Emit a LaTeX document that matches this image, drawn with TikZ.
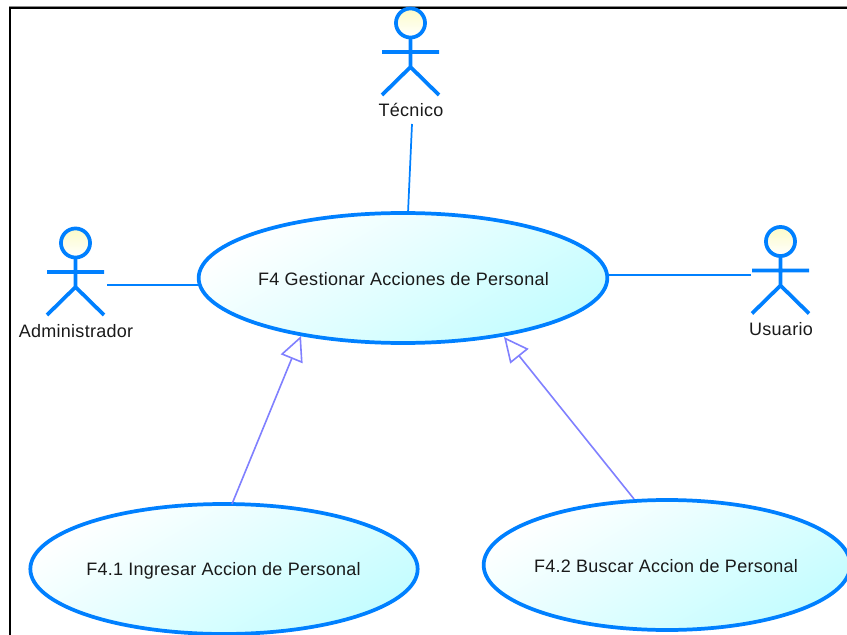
\documentclass[tikz,border=0pt]{standalone}
\usepackage{fontspec}
\setmainfont[LetterSpace=1.5]{Liberation Sans}
\usetikzlibrary{shapes.geometric,arrows.meta}
\definecolor{umlblue}{HTML}{0080FF}
\definecolor{genviolet}{HTML}{8080FF}
\definecolor{ucfill}{HTML}{C4FDFF}
\definecolor{headfill}{HTML}{FBFBC8}
\definecolor{inktext}{HTML}{1A1A1A}
\tikzset{
  usecase/.style={ellipse,draw=umlblue,line width=2.8pt,inner sep=0pt,
    top color=white,bottom color=ucfill,shading angle=30},
  uctext/.style={inner sep=0pt,text=inktext,font=\fontsize{13.5}{15}\selectfont},
  actorlabel/.style={inner sep=0pt,text=inktext,font=\fontsize{13.5}{15}\selectfont},
  assoc/.style={draw=umlblue,line width=1.3pt},
  gener/.style={draw=genviolet,line width=1.2pt,-{Triangle[open,length=18.5pt,width=17.5pt,fill=white]}},
  pics/actor/.style={code={
    \draw[umlblue,line width=2.8pt,top color=headfill,bottom color=white] (0,-29) circle[radius=10.9pt];
    \draw[umlblue,line width=2.8pt] (0,-14) -- (0,15) (-28.5,0) -- (28.5,0) (-28.5,43) -- (0,15) -- (28.5,43);
  }}
}
\begin{document}
\begin{tikzpicture}[x=0.75pt,y=-0.75pt]
\useasboundingbox (0,0) rectangle (847,635);
\fill[white] (0,0) rectangle (847,635);
\draw[black!45,line width=0.6pt] (9,6.5) -- (847,6.5);
\draw[black,line width=1.6pt] (10,635) -- (10,8) -- (847,8);

\pic at (75.5,272) {actor};
\pic at (410.5,52) {actor};
\pic at (780.5,270.5) {actor};
\node[actorlabel] (admin) at (76,331) {Administrador};
\node[actorlabel] (tecnico) at (411,110) {Técnico};
\node[actorlabel] (usuario) at (781,329) {Usuario};

\node[usecase,minimum width=306.5pt,minimum height=97.5pt] (f4) at (403,278) {};
\node[usecase,minimum width=290.5pt,minimum height=97.5pt] (f41) at (224,569) {};
\node[usecase,minimum width=275pt,minimum height=97.5pt] (f42) at (667,565) {};
\node[uctext] (f4text) at (403.5,279) {F4 Gestionar Acciones de Personal};
\node[uctext] (f41text) at (223.5,571) {F4.1 Ingresar Accion de Personal};
\node[uctext] (f42text) at (666,566) {F4.2 Buscar Accion de Personal};

\coordinate (tecEnd) at (412,124);
\coordinate (tecUc) at (408,213);
\coordinate (adminEnd) at (107,285);
\coordinate (adminUc) at (199,285);
\coordinate (usuEnd) at (751,275);
\coordinate (usuUc) at (609,275);
\coordinate (g1s) at (232,504);
\coordinate (g1e) at (301,336);
\coordinate (g2s) at (634,499);
\coordinate (g2e) at (504,337);

\draw[assoc] (tecEnd) -- (tecUc);
\draw[assoc] (adminEnd) -- (adminUc);
\draw[assoc] (usuEnd) -- (usuUc);
\draw[gener] (g1s) -- (g1e);
\draw[gener] (g2s) -- (g2e);
\end{tikzpicture}
\end{document}
